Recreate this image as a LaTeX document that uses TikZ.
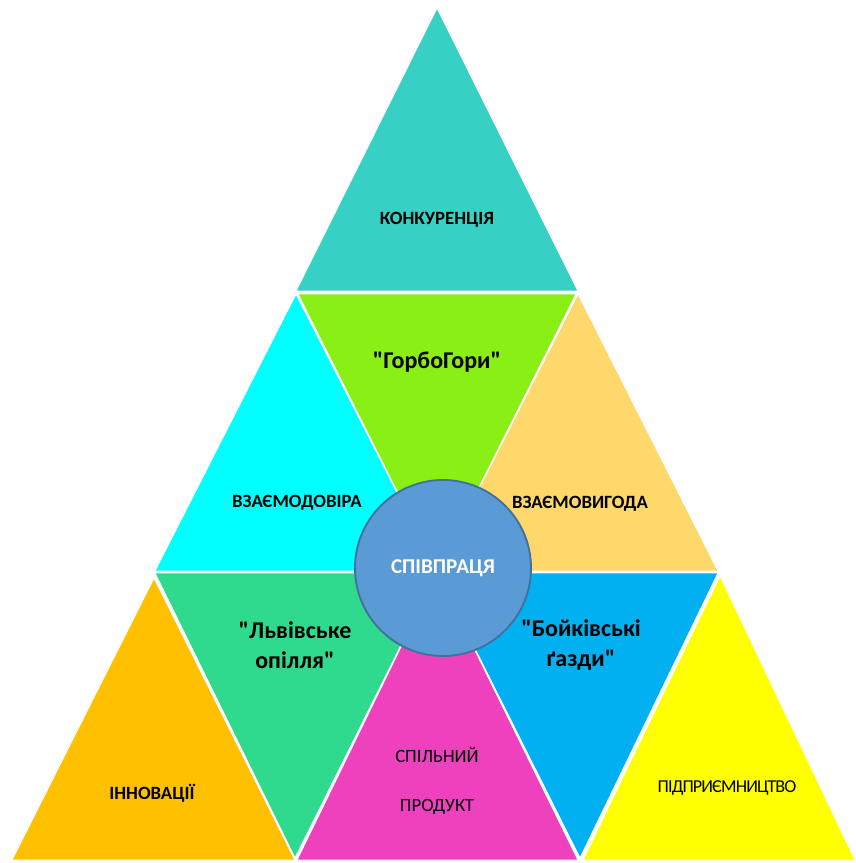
\documentclass[tikz,border=0pt]{standalone}
\usepackage{fontspec}
\setmainfont{Carlito}
\usepackage{xcolor}
\usetikzlibrary{positioning}

\definecolor{konkcol}{HTML}{36D1C4}
\definecolor{trustcol}{HTML}{00FFFF}
\definecolor{gorcol}{HTML}{8AEF14}
\definecolor{benefcol}{HTML}{FED86A}
\definecolor{innocol}{HTML}{FFC000}
\definecolor{lvivcol}{HTML}{2FDA8E}
\definecolor{prodcol}{HTML}{EE41BD}
\definecolor{boykcol}{HTML}{00B0F0}
\definecolor{entrcol}{HTML}{FFFF00}
\definecolor{hubfill}{HTML}{5B9BD5}
\definecolor{hubline}{HTML}{41719C}

\newcommand{\qt}{\textquotedbl}

\begin{document}
\begin{tikzpicture}[
  x=0.3mm, y=-0.3mm,
  piece/.style={draw=white, line width=0.8pt, line join=round},
  caps/.style={font=\fontsize{16}{19}\selectfont\bfseries, text=black},
  farm/.style={font=\fontsize{20.5}{26}\selectfont\bfseries, align=center, text=black},
  hub/.style={circle, draw=hubline, line width=1.6pt, fill=hubfill, minimum size=52.8mm,
    text=white, font=\fontsize{18}{21}\selectfont\bfseries}
]
\useasboundingbox (0,0) rectangle (855,863);

% top row
\filldraw[piece, fill=konkcol] (437,8) -- (578,291) -- (296,291) -- cycle;

% middle row
\filldraw[piece, fill=trustcol] (296,294) -- (437,571) -- (155,571) -- cycle;
\filldraw[piece, fill=gorcol] (298,294) -- (576,294) -- (437,571) -- cycle;
\filldraw[piece, fill=benefcol] (578,294) -- (718,571) -- (437,571) -- cycle;

% bottom row
\filldraw[piece, fill=innocol] (154,578) -- (295,860) -- (12,860) -- cycle;
\filldraw[piece, fill=lvivcol] (155,573) -- (437,573) -- (295,858) -- cycle;
\filldraw[piece, fill=prodcol] (437,573) -- (578,860) -- (297,860) -- cycle;
\filldraw[piece, fill=boykcol] (437,573) -- (718,573) -- (580,858) -- cycle;
\filldraw[piece, fill=entrcol] (720,576) -- (855,860) -- (583,860) -- cycle;

\node[caps] (konk) at (437,220) {КОНКУРЕНЦІЯ};
\node[farm] (gorb) at (437,362) {\qt ГорбоГори\qt};
\node[caps] (trust) at (297,503) {ВЗАЄМОДОВІРА};
\node[caps] (benef) at (580,504) {ВЗАЄМОВИГОДА};
\node[farm] (lviv) at (295,645) {\qt Львівське\\опілля\qt};
\node[farm] (boyk) at (581,645) {\qt Бойківські\\ґазди\qt};
\node[caps] (inno) at (152,793) {ІННОВАЦІЇ};
\node[caps, font=\fontsize{16}{42}\selectfont, align=center] (prod) at (437,781) {СПІЛЬНИЙ\\ПРОДУКТ};
\node[caps, font=\fontsize{15.5}{18}\selectfont\addfontfeatures{LetterSpace=-5}] (entr) at (727,788) {ПІДПРИЄМНИЦТВО};

\node[hub] (coop) at (443,568) {СПІВПРАЦЯ};
\end{tikzpicture}
\end{document}
